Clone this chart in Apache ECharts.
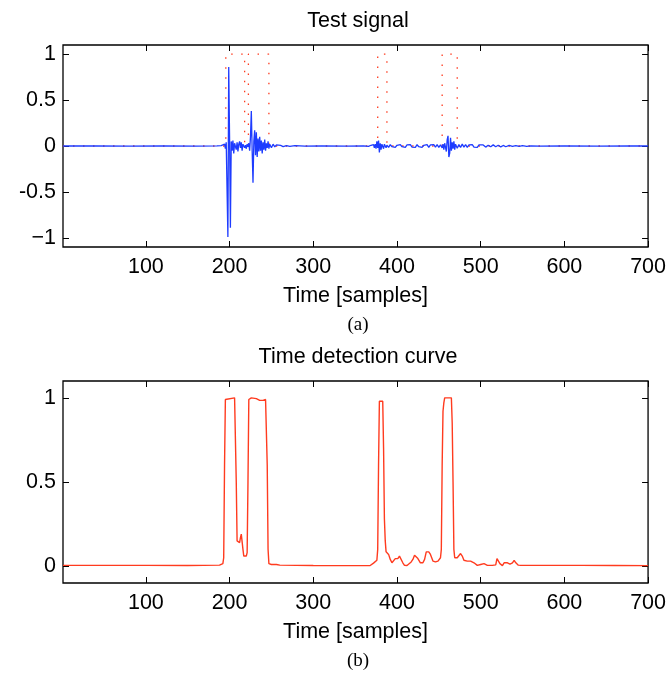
<!DOCTYPE html>
<html>
<head>
<meta charset="utf-8">
<script src="https://cdn.jsdelivr.net/npm/echarts@6/dist/echarts.min.js"></script>
<style>
  html, body { margin: 0; padding: 0; background: #fff; }
  #chart { width: 669px; height: 677px; }
</style>
</head>
<body>
<div id="chart"></div>
<script>
// tick values
const xTicks = [100, 200, 300, 400, 500, 600, 700];
const topTicks = [-1, -0.5, 0, 0.5, 1];
const bottomTicks = [0, 0.5, 1];

// (a) test signal, [sample, amplitude]
const testSignal = [
  [1, 0], [40, 0.002], [80, -0.002], [120, 0.002], [160, -0.001], [185, 0.002],
  [190, 0.005], [192, -0.01], [194, 0.02], [195, -0.03], [196, 0.04], [197, 0.03],
  [198, -0.99], [199, 0.86], [200, 0.1], [201, -0.89], [202, 0.05], [203, -0.05],
  [204, 0.06], [205, -0.08], [206, 0.03], [207, 0.05], [208, -0.04], [209, 0.04],
  [210, -0.06], [211, 0.02], [212, 0.05], [213, -0.02], [214, 0.04], [215, -0.05],
  [216, 0.02], [217, 0.03], [218, -0.02], [219, 0.01], [220, -0.03], [221, 0.02],
  [222, -0.01], [223, 0.03], [224, -0.05], [225, 0.1], [226, 0.38], [227, -0.05],
  [228, -0.4], [229, 0.05], [230, 0.17], [231, -0.1], [232, 0.15], [233, -0.12],
  [234, 0.08], [235, -0.06], [236, 0.1], [237, -0.05], [238, 0.06], [239, -0.08],
  [240, 0.04], [241, -0.04], [242, 0.07], [243, -0.05], [244, 0.03], [245, -0.02],
  [246, 0.05], [247, -0.03], [248, 0.02], [250, -0.02], [252, 0.02], [254, -0.01],
  [256, 0.012], [258, -0.008], [261, 0.006], [264, -0.006], [268, 0.004], [272, -0.004],
  [278, 0.003], [290, -0.002], [310, 0.002], [340, -0.002], [360, 0.002], [366, -0.005],
  [369, 0.008], [371, -0.01], [372, 0.015], [373, -0.02], [374, 0.02], [375, -0.03],
  [376, 0.05], [377, -0.02], [378, 0.06], [379, -0.07], [380, 0.03], [381, -0.04],
  [382, 0.02], [383, 0.01], [384, -0.03], [385, 0.02], [386, 0.03], [387, -0.02],
  [388, 0.01], [390, -0.015], [392, 0.015], [394, -0.008], [396, 0.012], [398, -0.015],
  [400, 0.008], [402, -0.012], [404, 0.015], [406, -0.008], [408, 0.008], [410, -0.015],
  [412, 0.012], [414, -0.008], [416, 0.015], [418, -0.012], [420, 0.008], [422, -0.015],
  [424, 0.015], [426, -0.008], [428, 0.012], [430, -0.015], [432, 0.008], [434, -0.012],
  [436, 0.015], [438, -0.015], [440, 0.012], [442, -0.008], [444, 0.015], [446, -0.012],
  [448, 0.015], [450, -0.015], [452, 0.012], [454, -0.02], [455, 0.02], [456, -0.04],
  [457, 0.03], [458, 0.05], [459, -0.06], [460, 0.07], [461, 0.11], [462, -0.12],
  [463, -0.08], [464, 0.09], [465, -0.05], [466, 0.04], [467, -0.03], [468, 0.05],
  [469, -0.04], [470, 0.02], [472, -0.025], [474, 0.015], [476, -0.015], [478, 0.02],
  [480, -0.012], [482, 0.015], [484, -0.015], [486, 0.012], [488, -0.008], [490, 0.015],
  [492, -0.012], [494, 0.008], [496, -0.015], [498, 0.012], [500, -0.008], [503, 0.012],
  [506, -0.012], [509, 0.008], [512, -0.008], [515, 0.012], [518, -0.008], [521, 0.008],
  [524, -0.01], [527, 0.006], [530, -0.008], [534, 0.006], [538, -0.005], [542, 0.005],
  [546, -0.004], [550, 0.003], [555, -0.003], [560, 0.002], [570, -0.002], [600, 0.001],
  [640, -0.001], [680, 0.001], [700, 0]
];

// (a) detection windows, drawn dotted
const detectionWindows = [
  [1, 0], [195.5, 0], [195.5, 1], [218, 1], [218, 0], [222.5, 0], [222.5, 1],
  [247, 1], [247, 0], [377, 0], [377, 1], [388, 1], [388, 0], [454, 0], [454, 1],
  [472, 1], [472, 0], [700, 0]
];

// (b) time detection curve
const detectionCurve = [
  [1, 0.005], [100, 0.005], [150, 0.004], [188, 0.006], [192, 0.015], [193, 0.05],
  [194, 0.6], [195, 0.99], [197, 1.0], [206, 1.0], [207, 0.99], [208, 0.5],
  [209, 0.15], [211, 0.14], [212, 0.14], [213, 0.17], [214, 0.19], [215, 0.18],
  [216, 0.1], [217, 0.06], [220, 0.06], [221, 0.08], [222, 0.5], [223, 0.99],
  [226, 1.0], [232, 0.995], [236, 0.985], [240, 0.985], [243, 0.99], [244, 0.98],
  [245, 0.6], [246, 0.1], [247, 0.015], [250, 0.01], [253, 0.01], [254.5, 0.016],
  [256, 0.01], [260, 0.006], [300, 0.004], [340, 0.003], [368, 0.004], [370, 0.008],
  [372, 0.018], [374, 0.025], [376, 0.035], [377, 0.1], [378, 0.6], [379, 0.98],
  [383, 0.98], [384, 0.7], [385, 0.28], [386, 0.15], [387, 0.085], [389, 0.08],
  [390, 0.07], [392, 0.04], [394, 0.02], [396, 0.02], [398, 0.045], [401, 0.045],
  [403, 0.06], [404, 0.07], [405, 0.065], [407, 0.02], [409, 0.005], [412, 0.004],
  [414, 0.01], [417, 0.025], [419, 0.04], [421, 0.065], [423, 0.07], [425, 0.045],
  [428, 0.02], [431, 0.02], [433, 0.04], [435, 0.085], [438, 0.085], [440, 0.07],
  [443, 0.03], [446, 0.025], [449, 0.03], [452, 0.05], [453, 0.1], [454, 0.6],
  [455, 0.92], [456, 0.97], [457, 1.0], [465, 1.0], [466, 0.85], [467, 0.5],
  [468, 0.1], [469, 0.05], [472, 0.05], [474, 0.06], [476, 0.075], [478, 0.06],
  [480, 0.035], [484, 0.03], [488, 0.03], [492, 0.02], [496, 0.005], [500, 0.01],
  [504, 0.015], [508, 0.005], [514, 0.005], [518, 0.008], [519.5, 0.045], [521, 0.04],
  [523, 0.015], [526, 0.003], [528, 0.02], [530, 0.03], [532, 0.02], [535, 0.012],
  [538, 0.02], [540, 0.035], [542, 0.02], [545, 0.006], [548, 0.005], [580, 0.005],
  [620, 0.005], [660, 0.004], [700, 0.003]
];

const FONT = '"Liberation Sans", Arial, Helvetica, sans-serif';
const SERIF = '"Liberation Serif", "DejaVu Serif", serif';

function xAxisFor(grid, position) {
  const main = position === 'bottom';
  return {
    type: 'value', gridIndex: grid, position: position,
    min: 1, max: 700,
    splitLine: { show: false },
    axisLine: { show: false, onZero: false },
    axisTick: { show: true, inside: true, length: 6, customValues: xTicks,
      lineStyle: { color: '#000', width: 1 } },
    axisLabel: { show: main, customValues: xTicks, margin: 9,
      color: '#000', fontSize: 21.5, fontFamily: FONT },
    name: main ? 'Time [samples]' : '',
    nameLocation: 'middle', nameGap: 38,
    nameTextStyle: { color: '#000', fontSize: 21.5, fontFamily: FONT }
  };
}

function yAxisFor(grid, position, min, max, ticks) {
  const main = position === 'left';
  return {
    type: 'value', gridIndex: grid, position: position,
    min: min, max: max,
    splitLine: { show: false },
    axisLine: { show: false, onZero: false },
    axisTick: { show: true, inside: true, length: 6, customValues: ticks,
      lineStyle: { color: '#000', width: 1 } },
    axisLabel: { show: main, customValues: ticks, margin: 7,
      color: '#000', fontSize: 21.5, fontFamily: FONT,
      formatter: function (v) { return v === -1 ? '\u22121' : String(v); } }
  };
}

const chart = echarts.init(document.getElementById('chart'), null, { renderer: 'canvas' });
chart.setOption({
  animation: false,
  backgroundColor: '#fff',
  grid: [
    { left: 63, top: 45, width: 587, height: 202, show: true,
      borderColor: '#000', borderWidth: 1.3, backgroundColor: 'transparent' },
    { left: 63, top: 381, width: 587, height: 202, show: true,
      borderColor: '#000', borderWidth: 1.3, backgroundColor: 'transparent' }
  ],
  xAxis: [
    xAxisFor(0, 'bottom'), xAxisFor(0, 'top'),
    xAxisFor(1, 'bottom'), xAxisFor(1, 'top')
  ],
  yAxis: [
    yAxisFor(0, 'left', -1.1, 1.1, topTicks), yAxisFor(0, 'right', -1.1, 1.1, topTicks),
    yAxisFor(1, 'left', -0.1, 1.1, bottomTicks), yAxisFor(1, 'right', -0.1, 1.1, bottomTicks)
  ],
  graphic: [
    { type: 'text', x: 358, y: 21, style: { text: 'Test signal', fill: '#000',
      font: '21.5px ' + FONT, textAlign: 'center', textVerticalAlign: 'middle' } },
    { type: 'text', x: 358, y: 325, style: { text: '(a)', fill: '#000',
      font: '19px ' + SERIF, textAlign: 'center', textVerticalAlign: 'middle' } },
    { type: 'text', x: 358, y: 357, style: { text: 'Time detection curve', fill: '#000',
      font: '21.5px ' + FONT, textAlign: 'center', textVerticalAlign: 'middle' } },
    { type: 'text', x: 358, y: 661, style: { text: '(b)', fill: '#000',
      font: '19px ' + SERIF, textAlign: 'center', textVerticalAlign: 'middle' } }
  ],
  series: [
    {
      type: 'line', xAxisIndex: 0, yAxisIndex: 0,
      data: detectionWindows, showSymbol: false, silent: true,
      lineStyle: { color: '#ff3b1f', width: 1.3, type: [1.5, 8.5] }
    },
    {
      type: 'line', xAxisIndex: 0, yAxisIndex: 0,
      data: testSignal, showSymbol: false, silent: true,
      lineStyle: { color: '#1e3cff', width: 1.3 }
    },
    {
      type: 'line', xAxisIndex: 2, yAxisIndex: 2,
      data: detectionCurve, showSymbol: false, silent: true,
      lineStyle: { color: '#ff3b1f', width: 1.4 }
    }
  ]
});
</script>
</body>
</html>
